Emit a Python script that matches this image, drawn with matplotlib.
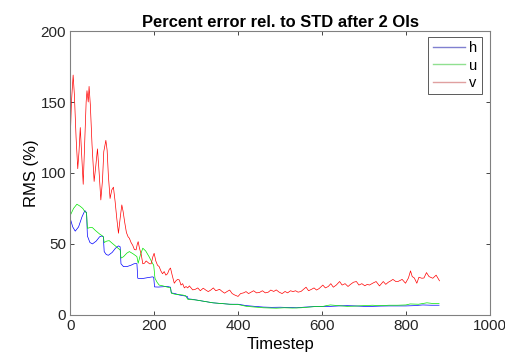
import numpy as np
import matplotlib
matplotlib.use('Agg')
import matplotlib.pyplot as plt

plt.rcParams['font.family'] = ['Liberation Sans', 'DejaVu Sans']

# h: saw-tooth decay, drops every 40 steps early on
h_t = [0, 6, 12, 20, 28, 35, 39, 41, 47, 53, 62, 70, 75, 79, 81, 86, 91, 100, 108, 115, 119,
       121, 127, 135, 145, 152, 157, 159, 161, 170, 180, 190, 196, 199, 201, 210, 220, 232, 239,
       241, 250, 260, 270, 279, 281, 290, 300, 320, 340, 360, 380, 400, 420, 440, 460, 480, 500,
       520, 540, 560, 580, 600, 620, 640, 660, 680, 700, 720, 740, 760, 780, 800, 820, 840, 860, 879]
h_v = [68, 62, 59, 62, 69, 73.5, 72, 55.6, 51, 50, 52, 55, 55.6, 55, 44.6, 42.5, 42, 44, 47, 48.6, 48,
       36, 34, 34, 35, 36, 36.2, 36, 25.8, 25.5, 26, 26.5, 26.8, 26.5, 19.7, 19.6, 19.8, 20, 19.5,
       15.5, 15, 14, 13.5, 13, 11.3, 11, 10.5, 9.5, 8.5, 8, 7.5, 7.5, 6.5, 6, 5.5, 5.3, 5.4,
       5.2, 5, 5.5, 5.8, 5.8, 6, 6.3, 6.5, 6.3, 6, 6, 6.2, 6.3, 6.3, 6.3, 6.5, 7, 6.8, 6.8]

# u
u_t = [0, 8, 16, 24, 30, 35, 39, 41, 47, 53, 60, 70, 77, 79, 81, 87, 93, 100, 110, 117, 119,
       121, 127, 135, 141, 150, 157, 159, 162, 167, 173, 180, 188, 196, 199, 202, 207, 212, 220,
       232, 239, 241, 250, 260, 268, 275, 280, 290, 300, 320, 340, 360, 380, 400, 420, 440, 460,
       480, 491, 510, 530, 550, 570, 590, 600, 610, 620, 640, 660, 680, 700, 720, 740, 760, 780,
       800, 810, 830, 850, 865, 879]
u_v = [70, 75, 78, 76.5, 75, 72.7, 72, 61, 61.5, 61.5, 59.5, 57, 55.6, 55, 51, 52, 52.3, 50.5, 48, 46.2, 46,
       40, 41, 43.5, 44.6, 43, 41.5, 41, 36.4, 42, 47, 45, 41, 36.4, 35, 25.8, 23, 21, 20.5,
       19.5, 19, 15.3, 14.5, 14.3, 14, 13.5, 11, 10.7, 10.5, 9.5, 8.5, 8, 7.5, 7.3, 6, 5.5, 5,
       4.8, 4.7, 5, 4.8, 5, 5.5, 6, 5.8, 6.5, 7, 6.5, 6, 6.2, 6.5, 6.8, 6.5, 6.8, 6.8,
       7, 7.7, 7.5, 8.5, 8, 8]

# v: noisy
v_t = [0, 3, 7, 10, 14, 18, 21, 24, 27, 31, 35, 38, 40, 43, 45, 48, 52, 57, 61, 65, 69, 73, 77, 80,
       85, 88, 91, 95, 99, 103, 107, 111, 115, 119, 123, 126, 130, 134, 138, 141, 145, 149, 153,
       157, 160, 162, 165, 169, 173, 177, 181, 185, 189, 193, 197, 200, 204, 208, 212, 216, 220,
       224, 228, 232, 236, 239, 243, 248, 252, 256, 260, 264, 268, 272, 276, 280, 284, 288, 292,
       298, 304, 310, 317, 323, 329, 335, 341, 347, 356, 362, 368, 374, 380, 386, 392, 400, 406,
       413, 419, 425, 431, 437, 444, 451, 458, 465, 472, 478, 485, 491, 498, 505, 512, 518, 525,
       531, 537, 543, 550, 556, 562, 568, 575, 581, 587, 593, 602, 608, 615, 621, 627, 634, 642,
       648, 655, 662, 668, 675, 682, 688, 695, 702, 708, 713, 722, 729, 737, 746, 752, 758, 764,
       769, 776, 781, 791, 799, 806, 811, 815, 820, 826, 831, 838, 843, 849, 855, 864, 872, 876, 880]
v_v = [123, 150, 169, 155, 125, 103, 115, 132, 115, 92, 125, 150, 158, 150, 161, 148, 120, 94, 105, 117, 100, 81, 95, 115,
       123, 116, 98, 82, 88, 90, 80, 68, 57.5, 68, 77.5, 73, 65, 58, 55, 54, 51, 49, 46,
       45.8, 50, 51.6, 47, 43, 36, 36.4, 38, 37, 36, 36, 41, 43.4, 38, 35, 34, 31, 29,
       30.5, 28, 29, 32, 33, 28, 22.3, 24, 25, 24.6, 21, 22, 19, 20, 19, 20.4, 19, 17.6,
       18, 19, 17, 18.8, 17.5, 16.4, 17.5, 19, 17, 18, 16.5, 15.3, 16.5, 17.5, 15, 14, 13, 15,
       15.5, 16.4, 15, 16, 17, 15.5, 15.8, 17, 15.5, 16, 17.5, 16.5, 17.6, 16, 15, 16.5, 15.5, 17,
       16.4, 17, 16, 16.5, 18, 19.5, 17, 18, 19, 17.5, 18.5, 21, 19, 20, 22, 19.5, 21, 23.5,
       21, 22, 20, 21.5, 23, 23.5, 21, 22, 20.5, 21.5, 21, 22.5, 23.5, 20.4, 23.5, 21.5, 23, 24,
       25, 23.5, 23.5, 25, 22.3, 26, 31, 27, 26, 22.3, 26.5, 25.8, 26, 29.8, 27, 25.8, 28, 26, 24]

fig = plt.figure(figsize=(5.05, 3.57), dpi=100)
ax = fig.add_axes([0.139, 0.118, 0.831, 0.795])

ax.plot(h_t, h_v, color=(0, 0, 1), lw=0.5, label='h')
ax.plot(u_t, u_v, color=(0, 0.9, 0), lw=0.5, label='u')
ax.plot(v_t, v_v, color=(1, 0, 0), lw=0.5, label='v')

ax.set_xlim(0, 1000)
ax.set_ylim(0, 200)
ax.set_xticks(np.arange(0, 1001, 200))
ax.set_yticks(np.arange(0, 201, 50))
ax.tick_params(direction='in', top=True, right=True, length=3, width=0.6,
               colors='#262626', labelsize=11, pad=3)
for s in ax.spines.values():
    s.set_color('#808080')
    s.set_linewidth(0.8)

ax.set_title('Percent error rel. to STD after 2 OIs', fontsize=11.9, fontweight='bold', pad=3)
ax.set_xlabel('Timestep', fontsize=12, labelpad=3)
ax.set_ylabel('RMS (%)', fontsize=12, labelpad=1)

leg = ax.legend(loc='upper right', fontsize=10.5, handlelength=2.2, handletextpad=0.3,
                borderpad=0.3, labelspacing=0.22, fancybox=False, framealpha=1,
                borderaxespad=0, bbox_to_anchor=(0.981, 0.979))
leg.get_frame().set_edgecolor('#404040')
leg.get_frame().set_linewidth(0.6)
# thin lines look washed out in the legend of the original
for line, c in zip(leg.get_lines(), ['#8080d0', '#90e090', '#e0a0a0']):
    line.set_color(c)
    line.set_linewidth(1.0)

fig.savefig('out.png', dpi=100)
